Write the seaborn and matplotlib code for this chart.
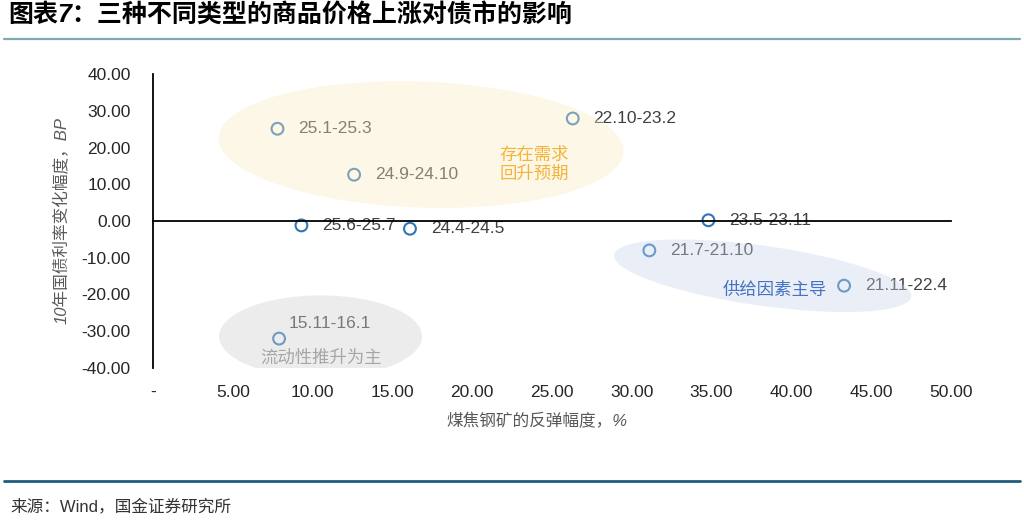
import matplotlib
matplotlib.use('Agg')
import matplotlib.pyplot as plt
import matplotlib.transforms as mtransforms
from matplotlib.patches import Ellipse
from matplotlib.lines import Line2D
import pandas as pd
import seaborn as sns

# Data
periods = ['25.1-25.3', '22.10-23.2', '24.9-24.10', '25.6-25.7', '24.4-24.5',
           '23.5-23.11', '21.7-21.10', '21.11-22.4', '15.11-16.1']
rebound = [7.8, 26.3, 12.6, 9.3, 16.1, 34.8, 31.1, 43.3, 7.9]   # 煤焦钢矿的反弹幅度, %
yield_chg = [25.1, 27.9, 12.6, -1.2, -2.1, 0.2, -8.0, -17.6, -32.0]  # 10年国债利率变化幅度, BP

x_ticks = [0, 5, 10, 15, 20, 25, 30, 35, 40, 45, 50]
x_tick_labels = ['-'] + ['%.2f' % v for v in x_ticks[1:]]
y_ticks = [-40, -30, -20, -10, 0, 10, 20, 30, 40]

df = pd.DataFrame({'period': periods, 'rebound': rebound, 'yield_chg': yield_chg})

sns.set_style('white')
plt.rcParams['font.family'] = ['Liberation Sans', 'Noto Sans CJK SC', 'DejaVu Sans']

fig = plt.figure(figsize=(10.24, 5.2), dpi=100)
ax = fig.add_axes([153 / 1024, 1 - 368 / 520, 798 / 1024, 294 / 520])

sns.scatterplot(x='rebound', y='yield_chg', data=df, ax=ax, marker='o', s=72,
                facecolor='none', edgecolor='#2F75B5', linewidth=1.5, zorder=3)

# Point labels
for p, xv, yv in zip(periods, rebound, yield_chg):
    if p == '15.11-16.1':
        ax.annotate(p, (xv, yv), xytext=(7, 11), textcoords='offset points',
                    fontsize=12.5, color='#404040', va='center', ha='left', zorder=3)
    else:
        ax.annotate(p, (xv, yv), xytext=(15, 0), textcoords='offset points',
                    fontsize=12.5, color='#404040', va='center', ha='left', zorder=3)

# Translucent ellipses over the points (sizes in inches, centre in data)
def add_ellipse(cx, cy, w, h, angle, color, alpha):
    trans = fig.dpi_scale_trans + mtransforms.ScaledTranslation(cx, cy, ax.transData)
    e = Ellipse((0, 0), w, h, angle=angle, transform=trans, facecolor=color,
                edgecolor='none', alpha=alpha, zorder=4)
    ax.add_patch(e)

add_ellipse(16.8, 20.8, 4.05, 1.26, -2, '#FBEBC2', 0.38)
add_ellipse(38.2, -14.9, 3.0, 0.6, -8, '#C9D7EC', 0.38)
add_ellipse(10.5, -31.4, 2.03, 0.82, 0, '#D0D0D0', 0.4)

# Group notes
ax.text(21.7, 15.4, '存在需求\n回升预期', color='#F4B43A', fontsize=12.5, style='italic',
        va='center', ha='left', linespacing=1.2, zorder=5)
ax.text(35.7, -18.8, '供给因素主导', color='#4472C4', fontsize=12.5, style='italic',
        va='center', ha='left', zorder=5)
ax.text(6.7, -37.3, '流动性推升为主', color='#A6A6A6', fontsize=12.5, style='italic',
        va='center', ha='left', zorder=5)

ax.set_xlim(0, 50)
ax.set_ylim(-40, 40)
sns.despine(ax=ax, top=True, right=True)
ax.spines['bottom'].set_position(('data', 0))
ax.spines['bottom'].set_zorder(6)
for s in ['left', 'bottom']:
    ax.spines[s].set_color('black')
    ax.spines[s].set_linewidth(1.3)

ax.set_xticks(x_ticks)
ax.tick_params(axis='x', direction='in', length=4, width=1.3, labelbottom=False)
ax.set_yticks(y_ticks)
ax.set_yticklabels(['%.2f' % v for v in y_ticks])
ax.tick_params(axis='y', direction='in', length=4, width=1.3, pad=16, labelsize=12.5)

# x tick labels sit under the plot area
sec = ax.secondary_xaxis('bottom')
sec.set_xticks(x_ticks)
sec.set_xticklabels(x_tick_labels)
sec.tick_params(length=0, pad=12, labelsize=12.5)
sec.spines['bottom'].set_visible(False)

ax.set_xlabel('')
ax.set_ylabel('')
fig.text(537 / 1024, 1 - 421 / 520, '煤焦钢矿的反弹幅度，%', fontsize=12, color='#595959',
         style='italic', ha='center', va='center')
fig.text(62 / 1024, 1 - 221 / 520, '10年国债利率变化幅度，BP', fontsize=12, color='#595959',
         style='italic', rotation=90, ha='center', va='center')

# Title, rules and source
fig.text(8 / 1024, 1 - 15 / 520, '图表7：三种不同类型的商品价格上涨对债市的影响',
         fontsize=18, fontweight='bold', style='italic', color='black',
         ha='left', va='center')
fig.add_artist(Line2D([4 / 1024, 1020 / 1024], [1 - 39 / 520, 1 - 39 / 520],
                      color='#7FA8B8', linewidth=1.6))
fig.add_artist(Line2D([4 / 1024, 1020 / 1024], [1 - 481 / 520, 1 - 481 / 520],
                      color='#1F5C7A', linewidth=2))
fig.text(10 / 1024, 1 - 506 / 520, '来源：Wind，国金证券研究所', fontsize=12,
         color='#333333', ha='left', va='center')

fig.savefig('out.png', dpi=100)
